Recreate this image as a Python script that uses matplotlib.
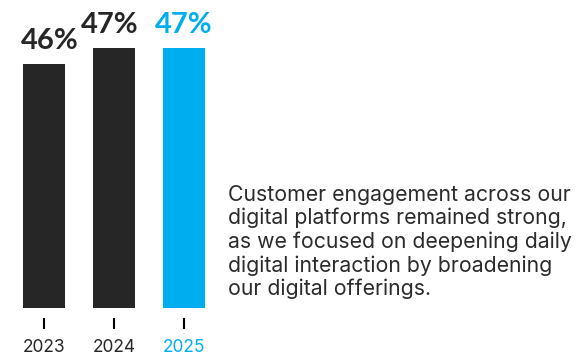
import matplotlib.pyplot as plt

# digital engagement share by year
years = ["2023", "2024", "2025"]
shares = [46, 47, 47]
bar_colors = ["#262626", "#262626", "#00adef"]

blurb = [
    "Customer engagement across our",
    "digital platforms remained strong,",
    "as we focused on deepening daily",
    "digital interaction by broadening",
    "our digital offerings.",
]

# small horizontal nudges for the value labels (points)
label_nudge = [4.0, -3.4, 0.0]

plt.rcParams['font.family'] = ['Lato', 'DejaVu Sans']

fig = plt.figure(figsize=(5.76, 3.58), dpi=100)
ax = fig.add_axes([9 / 576, 50 / 358, 210 / 576, 308 / 358])

x = list(range(len(years)))
ax.bar(x, shares, width=0.586, color=bar_colors)
ax.set_xlim(-0.5, 2.5)
ax.set_ylim(30.75, 50)

for xi, v, c, dx in zip(x, shares, bar_colors, label_nudge):
    ax.annotate(f"{v}%", (xi, v), xytext=(dx, 10.6), textcoords='offset points',
                ha='center', va='baseline', fontsize=21, fontweight='bold', color=c)

# short tick marks sitting a little below the bars
ax.set_xticks(x, years)
ax.set_yticks([])
for side in ['top', 'right', 'left']:
    ax.spines[side].set_visible(False)
ax.spines['bottom'].set_position(('outward', 7.2))
ax.spines['bottom'].set_visible(False)
ax.tick_params(axis='x', length=7.9, width=1.5, pad=7, labelsize=12.5)
for tick, c in zip(ax.xaxis.get_major_ticks(), bar_colors):
    tick.tick1line.set_color(c)
    tick.label1.set_color(c)
    tick.label1.set_family(['Inter', 'DejaVu Sans'])

for i, line in enumerate(blurb):
    fig.text(228 / 576, 1 - (201 + i * 23.5) / 358, line, fontsize=15.3,
             family=['Inter', 'DejaVu Sans'], va='baseline', ha='left', color='#2b2b2b')

fig.savefig("out.png", dpi=100)
